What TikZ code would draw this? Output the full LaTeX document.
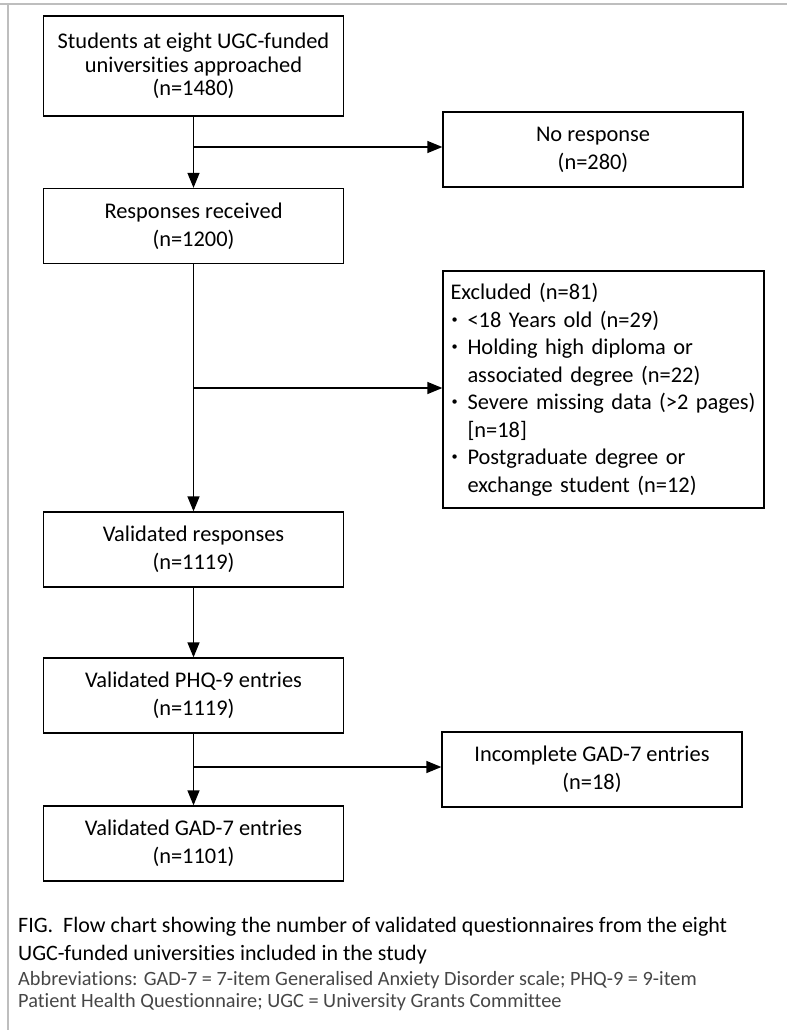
\documentclass[tikz,border=0pt]{standalone}
\usepackage{fontspec}
\setmainfont{Carlito}[Ligatures=CommonOff]
\usetikzlibrary{arrows.meta,positioning,calc}
\definecolor{framegray}{RGB}{190,190,190}
\definecolor{notegray}{RGB}{70,70,70}
\newcommand{\bul}{\makebox[17pt][l]{\hspace{1pt}\raisebox{0.35ex}{\scalebox{0.55}{\textbullet}}}}
\newcommand{\ind}{\hspace*{17pt}}
\tikzset{
  box/.style={draw, line width=1.3pt, minimum width=300pt, minimum height=75pt,
    align=center, inner sep=0pt, font=\fontsize{22.4}{28}\selectfont},
  flow/.style={line width=1.3pt, -{Triangle[length=15pt,width=12pt]}},
}
\begin{document}
\begin{tikzpicture}[x=1pt,y=-1pt]
\useasboundingbox (0,0) rectangle (787,1030);
%frame
\draw[framegray, line width=2pt] (0,4) -- (787,4);
\draw[framegray, line width=2pt] (8,4) -- (8,1030);
%main column
\node[box, minimum height=100pt, font=\fontsize{22.4}{23.5}\selectfont] (students) at (193.5,66) {Students at eight UGC-funded\\universities approached\\(n=1480)};
\node[box] (received) at (193.5,226) {Responses received\\(n=1200)};
\node[box] (validated) at (193.5,549.5) {Validated responses\\(n=1119)};
\node[box] (phq) at (193.5,695.5) {Validated PHQ-9 entries\\(n=1119)};
\node[box] (gad) at (193.5,843.5) {Validated GAD-7 entries\\(n=1101)};
%side boxes
\node[box] (noresp) at (593,149.5) {No response\\(n=280)};
\node[box, minimum width=321pt, minimum height=237pt, align=left, text width=306pt,
  font=\fontsize{22.4}{27.5}\selectfont] (excluded) at (603.5,389.5) {Excluded (n=81)\\
\bul<18 Years old (n=29)\\
\bul Holding high diploma or\\
\ind associated degree (n=22)\\
\bul Severe missing data (>2 pages)\\
\ind [n=18]\\
\bul Postgraduate degree or\\
\ind exchange student (n=12)};
\node[box] (incomplete) at (592,769.5) {Incomplete GAD-7 entries\\(n=18)};
%junctions
\coordinate (j1) at (193.5,147);
\coordinate (j2) at (193.5,388);
\coordinate (j3) at (193.5,767);
%arrows
\draw[flow] (students) -- (received);
\draw[flow] (received) -- (validated);
\draw[flow] (validated) -- (phq);
\draw[flow] (phq) -- (gad);
\draw[flow] (j1) -- (j1 -| noresp.west);
\draw[flow] (j2) -- (j2 -| excluded.west);
\draw[flow] (j3) -- (j3 -| incomplete.west);
%caption
\node[anchor=base west, align=left, inner sep=0pt, font=\fontsize{22}{28}\selectfont] (title) at (18,960) {FIG.\ \ Flow chart showing the number of validated questionnaires from the eight\\UGC-funded universities included in the study};
\node[anchor=base west, align=left, inner sep=0pt, text=notegray, font=\fontsize{20.3}{22}\selectfont] (abbrev) at (18,1007) {Abbreviations: GAD-7 = 7-item Generalised Anxiety Disorder scale; PHQ-9 = 9-item\\Patient Health Questionnaire; UGC = University Grants Committee};
\end{tikzpicture}
\end{document}
